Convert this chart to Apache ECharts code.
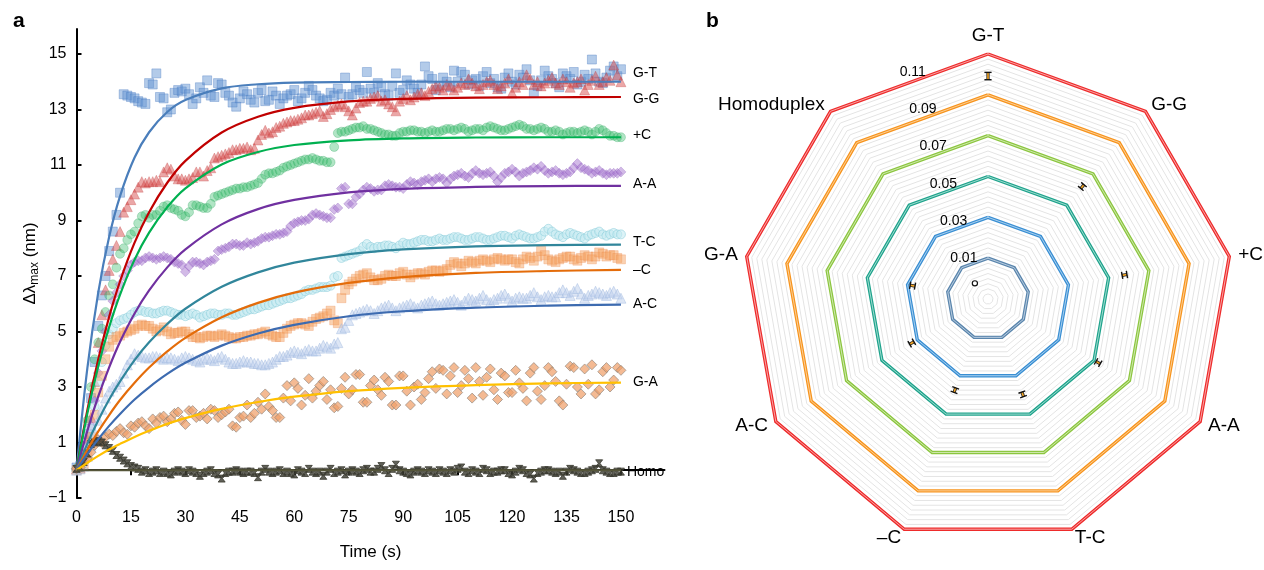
<!DOCTYPE html>
<html>
<head>
<meta charset="utf-8">
<script src="https://cdn.jsdelivr.net/npm/echarts@6/dist/echarts.min.js"></script>
<style>
  html, body { margin: 0; padding: 0; background: #fff; }
  #chart { width: 1264px; height: 570px; }
</style>
</head>
<body>
<div id="chart"></div>
<script>
// ---------- panel a : measured points, one per second ----------
const time = [0,1,2,3,4,5,6,7,8,9,10,11,12,13,14,15,16,17,18,19,20,21,22,23,24,25,26,27,28,29,
  30,31,32,33,34,35,36,37,38,39,40,41,42,43,44,45,46,47,48,49,50,51,52,53,54,55,56,57,58,59,
  60,61,62,63,64,65,66,67,68,69,70,71,72,73,74,75,76,77,78,79,80,81,82,83,84,85,86,87,88,89,
  90,91,92,93,94,95,96,97,98,99,100,101,102,103,104,105,106,107,108,109,110,111,112,113,114,115,116,117,118,119,
  120,121,122,123,124,125,126,127,128,129,130,131,132,133,134,135,136,137,138,139,140,141,142,143,144,145,146,147,148,149,150];

const gtPts = [0.1,0.15,0.4,1.3,2.6,3.9,5.2,6.3,7.0,7.9,
  8.6,9.2,10.0,13.55,13.5,13.45,13.4,13.3,13.25,13.2,
  13.95,13.9,14.3,13.45,13.4,12.9,13.0,13.6,13.7,13.65,
  13.75,13.55,13.2,13.4,13.8,13.6,14.05,13.5,13.45,13.95,
  13.9,13.6,13.5,13.25,13.1,13.4,13.65,13.55,13.35,13.25,
  13.6,13.7,13.3,13.35,13.65,13.5,13.2,13.4,13.5,13.55,
  13.7,13.3,13.4,13.6,13.85,13.7,13.5,13.4,13.3,13.35,
  13.6,13.5,13.75,13.55,14.15,13.45,13.55,13.8,13.7,13.6,
  14.35,13.75,13.6,13.95,13.8,13.55,13.5,13.85,14.3,13.6,
  13.7,14.05,13.9,13.75,13.6,13.9,14.55,14.2,14.1,13.7,
  13.85,14.15,14.0,13.8,14.4,14.0,14.35,14.25,13.9,14.05,
  14.1,13.85,14.2,14.35,13.95,14.1,13.8,13.75,14.15,14.3,
  14.0,13.9,14.25,14.15,14.45,14.05,13.6,13.85,14.05,14.4,
  14.2,14.1,13.95,13.8,14.3,14.2,14.1,14.35,13.9,14.0,
  14.25,14.1,14.8,14.3,14.0,13.95,14.15,14.4,14.55,14.2,
  14.45];
const ggPts = [0.05,0.1,0.5,1.1,1.9,3.2,4.6,5.6,6.5,7.2,
  7.6,8.1,8.6,9.3,9.5,9.75,9.95,10.2,10.4,10.35,
  10.4,10.4,10.45,10.4,10.75,10.9,10.85,10.6,10.5,10.5,
  10.45,10.5,10.55,10.75,10.75,10.6,10.8,10.9,11.25,11.3,
  11.35,11.4,11.45,11.55,11.55,11.6,11.6,11.65,11.55,11.6,
  11.9,12.1,12.25,12.15,12.2,12.35,12.4,12.5,12.55,12.6,
  12.6,12.65,12.7,12.8,12.8,12.85,12.9,12.95,12.75,12.85,
  13.0,13.1,13.15,13.2,13.1,12.95,12.8,13.05,13.25,13.3,
  13.3,13.4,13.45,13.5,13.3,13.35,13.2,13.1,12.95,13.3,
  13.4,13.5,13.35,13.45,13.55,13.6,13.5,13.65,13.75,13.85,
  13.8,13.7,13.9,13.85,13.7,13.8,13.95,13.9,14.1,13.95,
  13.85,13.75,13.9,14.0,14.05,13.9,13.75,13.85,13.95,14.1,
  13.6,13.8,14.0,13.9,14.25,14.1,13.9,14.0,13.85,13.95,
  14.05,14.15,13.95,13.9,14.1,14.0,13.8,13.95,14.0,14.1,
  13.7,13.9,14.05,14.2,13.9,14.0,14.15,14.05,14.6,14.25,
  14.0];
const pcPts = [0.05,0.2,0.6,1.8,3.0,4.0,4.6,5.1,5.7,6.3,
  6.7,7.3,7.8,8.0,8.3,8.5,8.6,8.9,9.15,9.2,
  9.1,9.2,9.2,9.35,9.5,9.55,9.45,9.4,9.35,9.2,
  9.15,9.3,9.55,9.55,9.5,9.45,9.45,9.6,9.85,9.9,
  9.95,10.0,10.05,10.1,10.15,10.15,10.2,10.2,10.25,10.3,
  10.35,10.5,10.65,10.7,10.7,10.75,10.8,10.9,10.95,11.0,
  11.05,11.1,11.15,11.2,11.2,11.25,11.2,11.15,11.15,11.1,
  11.1,11.65,12.15,12.2,12.2,12.25,12.3,12.35,12.35,12.4,
  12.3,12.3,12.25,12.2,12.15,12.1,12.1,12.05,12.05,12.15,
  12.2,12.2,12.25,12.25,12.2,12.2,12.15,12.2,12.25,12.2,
  12.2,12.25,12.3,12.3,12.25,12.3,12.35,12.3,12.2,12.25,
  12.3,12.3,12.25,12.35,12.4,12.35,12.3,12.25,12.25,12.3,
  12.35,12.4,12.45,12.4,12.3,12.3,12.25,12.3,12.35,12.3,
  12.2,12.2,12.25,12.2,12.1,12.15,12.2,12.2,12.15,12.2,
  12.25,12.2,12.1,12.2,12.3,12.25,12.15,12.05,12.05,12.0,
  12.0];
const aaPts = [0.05,0.1,0.4,0.9,1.6,2.5,3.5,4.3,5.0,5.6,
  6.1,6.4,6.7,7.0,7.2,7.4,7.5,7.55,7.55,7.65,
  7.7,7.65,7.6,7.65,7.7,7.65,7.6,7.5,7.45,7.4,
  7.15,7.35,7.5,7.5,7.45,7.4,7.5,7.55,7.6,7.9,
  7.95,8.0,8.05,8.15,8.15,8.1,8.1,8.2,8.15,8.2,
  8.25,8.35,8.4,8.4,8.45,8.5,8.5,8.55,8.6,8.8,
  8.9,8.95,9.0,9.0,9.05,9.2,9.25,9.2,9.15,9.1,
  9.1,9.4,9.45,10.15,10.2,9.6,9.6,9.85,9.95,10.1,
  10.2,10.15,10.05,10.1,10.1,10.25,10.3,10.25,10.2,10.2,
  10.15,10.3,10.4,10.35,10.3,10.4,10.45,10.5,10.4,10.5,
  10.55,10.5,10.35,10.5,10.6,10.65,10.7,10.6,10.55,10.7,
  10.8,10.7,10.65,10.7,10.75,10.6,10.4,10.55,10.7,10.75,
  10.85,10.75,10.6,10.7,10.75,10.8,10.9,10.85,10.95,10.8,
  10.7,10.75,10.8,10.7,10.65,10.7,10.75,10.9,11.05,10.9,
  10.85,10.8,10.7,10.75,10.8,10.7,10.65,10.7,10.7,10.7,
  10.75];
const tcPts = [0.0,0.1,0.3,0.8,1.5,2.3,3.2,3.9,4.5,4.9,
  5.1,5.3,5.4,5.45,5.5,5.6,5.7,5.75,5.75,5.7,
  5.7,5.65,5.65,5.7,5.75,5.75,5.7,5.65,5.6,5.6,
  5.55,5.6,5.65,5.6,5.5,5.55,5.6,5.65,5.65,5.6,
  5.6,5.65,5.65,5.6,5.6,5.65,5.7,5.75,5.8,5.8,
  5.85,5.9,5.95,5.95,6.0,6.05,6.1,6.15,6.2,6.2,
  6.25,6.3,6.35,6.45,6.5,6.5,6.55,6.6,6.6,6.6,
  6.65,6.95,7.0,7.65,7.7,7.75,7.8,7.85,7.9,8.05,
  8.15,8.05,8.0,8.05,8.05,8.1,8.1,8.05,8.0,8.1,
  8.2,8.15,8.15,8.2,8.25,8.3,8.3,8.25,8.25,8.3,
  8.35,8.3,8.3,8.35,8.4,8.4,8.35,8.3,8.3,8.35,
  8.4,8.4,8.35,8.3,8.3,8.35,8.4,8.45,8.45,8.4,
  8.35,8.45,8.5,8.45,8.4,8.35,8.35,8.4,8.45,8.6,
  8.7,8.6,8.5,8.45,8.4,8.5,8.55,8.5,8.45,8.4,
  8.35,8.45,8.5,8.55,8.6,8.5,8.45,8.5,8.55,8.5,
  8.5];
const mcPts = [0.0,0.05,0.2,0.6,1.2,2.0,2.8,3.4,4.0,4.45,
  4.7,4.8,4.85,4.95,5.0,5.05,5.1,5.2,5.25,5.2,
  5.2,5.1,5.0,5.05,5.15,5.0,4.9,4.95,4.95,5.0,
  5.0,4.9,4.8,4.8,4.75,4.8,4.85,4.85,4.8,4.85,
  4.9,4.85,4.8,4.75,4.75,4.8,4.8,4.85,4.85,4.9,
  4.9,4.95,5.0,4.9,4.85,4.8,4.8,4.95,5.1,5.2,
  5.25,5.3,5.3,5.25,5.2,5.35,5.45,5.5,5.55,5.65,
  5.75,5.4,5.3,6.2,6.5,6.7,6.8,6.9,7.0,7.05,
  7.1,6.95,6.85,6.85,6.9,7.0,7.05,7.0,7.0,7.1,
  7.15,7.05,6.95,7.05,7.1,7.1,7.05,7.15,7.2,7.2,
  7.15,7.2,7.25,7.4,7.5,7.45,7.35,7.45,7.55,7.5,
  7.45,7.55,7.6,7.55,7.5,7.6,7.65,7.6,7.55,7.6,
  7.6,7.5,7.45,7.6,7.7,7.65,7.55,7.7,7.9,7.75,
  7.6,7.55,7.5,7.6,7.65,7.7,7.7,7.6,7.55,7.65,
  7.75,7.7,7.6,7.7,7.85,7.8,7.7,7.75,7.75,7.65,
  7.6];
const acPts = [0.0,0.05,0.15,0.5,0.9,1.35,1.8,2.2,2.6,2.85,
  3.0,3.1,3.2,3.5,3.8,4.0,4.2,4.15,4.1,4.05,
  4.05,4.1,4.1,4.05,4.0,4.05,4.05,4.0,3.95,4.05,
  4.1,4.05,4.0,3.95,3.9,4.0,4.05,4.0,3.95,4.05,
  4.1,4.0,3.9,3.85,3.85,3.9,3.95,3.9,3.9,3.85,
  3.85,3.8,3.8,3.85,3.9,4.0,4.1,4.1,4.15,4.25,
  4.3,4.25,4.2,4.3,4.35,4.3,4.3,4.4,4.5,4.45,
  4.4,4.55,4.6,5.1,5.15,5.4,5.6,5.65,5.7,5.75,
  5.8,5.75,5.65,5.75,5.85,5.9,5.95,5.85,5.75,5.85,
  5.9,5.95,6.0,5.9,5.85,5.95,6.0,6.05,6.1,6.0,
  5.95,6.0,6.05,6.1,6.15,6.05,5.95,6.1,6.2,6.15,
  6.1,6.2,6.3,6.15,6.05,6.15,6.2,6.3,6.35,6.2,
  6.1,6.2,6.25,6.2,6.2,6.3,6.4,6.25,6.15,6.25,
  6.3,6.25,6.25,6.4,6.5,6.4,6.3,6.45,6.55,6.35,
  6.2,6.3,6.35,6.45,6.4,6.35,6.3,6.4,6.45,6.35,
  6.2];
const gaPts = [0.05,0.1,0.3,0.45,0.65,0.9,1.1,1.0,1.2,1.3,
  1.25,1.4,1.5,1.35,1.3,1.6,1.55,1.7,1.75,1.6,
  1.5,1.85,1.7,1.9,1.95,1.75,1.85,2.05,2.1,1.8,
  1.65,2.15,2.15,1.9,1.95,2.05,1.85,2.2,2.15,1.9,
  2.0,2.1,2.2,1.6,1.55,1.9,1.95,2.35,1.9,2.05,
  2.45,2.2,2.75,2.3,2.15,1.9,1.9,2.6,3.05,2.5,
  3.15,2.95,2.35,2.7,3.3,2.6,2.85,3.05,3.2,2.55,
  2.9,2.25,2.3,2.95,3.35,2.75,2.9,3.45,3.45,2.45,
  2.45,3.05,3.25,2.9,2.7,3.35,3.2,2.35,2.35,3.4,
  3.4,2.85,2.35,3.0,3.1,2.55,2.8,3.3,3.55,2.95,
  3.65,3.6,2.75,3.4,3.7,2.8,3.05,3.6,3.3,2.6,
  3.7,3.2,2.7,3.35,3.65,2.9,2.55,3.5,3.4,2.8,
  2.8,3.6,3.15,2.95,2.5,3.5,3.7,2.85,2.55,3.05,
  3.7,3.55,3.2,2.5,2.35,3.1,3.75,3.7,3.0,2.75,
  3.65,3.1,3.8,2.75,2.9,3.55,3.7,3.0,3.25,3.7,
  3.6];
const homoPts = [0.05,0.1,0.3,0.6,0.95,1.0,1.05,1.0,0.9,0.8,
  0.7,0.55,0.45,0.35,0.25,0.15,0.1,0.05,-0.05,0.0,
  -0.1,-0.05,0.0,-0.1,-0.05,-0.1,-0.15,-0.05,0.0,-0.05,
  -0.1,0.0,-0.05,-0.1,-0.2,-0.1,-0.05,0.0,-0.1,-0.15,
  -0.3,-0.1,-0.05,-0.05,0.0,-0.05,-0.1,-0.05,-0.05,-0.1,
  -0.25,-0.05,0.05,-0.05,-0.1,-0.05,0.0,-0.1,-0.05,-0.1,
  -0.15,0.0,-0.05,-0.1,0.05,-0.05,-0.1,-0.05,-0.2,-0.05,
  0.05,-0.1,-0.05,0.0,-0.15,-0.05,0.0,-0.05,-0.1,0.0,
  0.05,-0.05,-0.05,0.05,0.15,0.0,-0.1,0.05,0.2,0.0,
  -0.05,-0.1,-0.15,-0.05,0.0,-0.05,-0.1,0.0,-0.05,-0.1,
  0.0,-0.05,-0.1,0.0,-0.05,0.05,0.1,-0.05,-0.1,0.0,
  -0.05,-0.1,0.05,0.0,-0.1,-0.05,-0.05,0.0,0.0,-0.1,
  -0.15,-0.05,0.05,0.0,-0.1,-0.15,-0.3,-0.1,-0.05,0.0,
  0.0,-0.05,-0.1,-0.05,-0.2,-0.05,0.05,0.0,-0.05,-0.1,
  -0.1,-0.05,0.0,0.05,0.25,0.0,-0.05,-0.1,-0.1,-0.05,
  -0.05];

// ---------- panel a : fitted curves ----------
const fitTime = [0,3,6,9,12,16,20,25,30,40,50,60,75,90,110,130,150];
const gtFit   = [0,3.69,6.41,8.41,9.88,11.27,12.18,12.91,13.34,13.76,13.91,13.97,13.99,14.0,14.0,14.0,14.0];
const ggFit   = [0,2.17,4.0,5.53,6.81,8.2,9.3,10.36,11.15,12.17,12.74,13.06,13.29,13.38,13.43,13.44,13.45];
const pcFit   = [0,2.05,3.75,5.16,6.33,7.59,8.56,9.48,10.16,11.02,11.47,11.72,11.89,11.96,11.99,12.0,12.0];
const aaFit   = [0,1.43,2.66,3.71,4.63,5.65,6.48,7.31,7.96,8.86,9.41,9.74,10.01,10.14,10.21,10.24,10.25];
const tcFit   = [0,0.96,1.8,2.55,3.2,3.97,4.61,5.27,5.82,6.61,7.13,7.48,7.79,7.96,8.07,8.11,8.13];
const mcFit   = [0,0.74,1.4,1.99,2.53,3.15,3.7,4.28,4.77,5.51,6.03,6.4,6.75,6.96,7.11,7.18,7.22];
const acFit   = [0,0.59,1.12,1.6,2.03,2.55,2.99,3.47,3.87,4.49,4.93,5.24,5.55,5.73,5.86,5.93,5.97];
const gaFit   = [0,0.27,0.52,0.75,0.95,1.2,1.42,1.67,1.88,2.21,2.46,2.65,2.85,2.97,3.07,3.13,3.16];
const homoFit = [0,0,0,0,0,0,0,0,0,0,0,0,0,0,0,0,0];

const xTicks = [0,15,30,45,60,75,90,105,120,135,150];
const yTicks = [-1,1,3,5,7,9,11,13,15];

// ---------- panel b : radar ----------
const mismatch = ['G-T','G-G','+C','A-A','T-C','\u2013C','A-C','G-A','Homoduplex']; // clockwise from top
const ratio    = [0.0992,0.0619,0.0579,0.0523,0.0397,0.0375,0.0331,0.0275,0.0];
const ratioErr = [0.0018,0.0012,0.0012,0.0012,0.0012,0.0012,0.0012,0.0012,0];
const ringLabels = [0.01,0.03,0.05,0.07,0.09,0.11];

const FONT = '"Liberation Sans", Arial, Helvetica, sans-serif';

// marker / line looks for panel a
const sets = [
  { name: 'G-T',  pts: gtPts,  fit: gtFit,  symbol: 'rect',     size: 9,  fill: 'rgba(96,146,208,0.6)',   border: 'rgba(70,120,190,0.45)', line: '#4a7ebb', off: [0,-9] },
  { name: 'G-G',  pts: ggPts,  fit: ggFit,  symbol: 'triangle', size: 10, fill: 'rgba(214,72,72,0.6)',    border: 'rgba(190,50,50,0.35)', line: '#c00000', off: [0,2] },
  { name: '+C',   pts: pcPts,  fit: pcFit,  symbol: 'circle',   size: 9,  fill: 'rgba(60,190,110,0.5)',   border: 'rgba(40,160,90,0.35)', line: '#00b050', off: [0,-2] },
  { name: 'A-A',  pts: aaPts,  fit: aaFit,  symbol: 'diamond',  size: 10, fill: 'rgba(160,110,205,0.6)',  border: 'rgba(130,80,180,0.35)', line: '#7030a0', off: [0,-2] },
  { name: 'T-C',  pts: tcPts,  fit: tcFit,  symbol: 'circle',   size: 9,  fill: 'rgba(195,234,240,0.7)',  border: 'rgba(130,200,215,0.6)', line: '#31869b', off: [0,-2] },
  { name: '\u2013C', pts: mcPts, fit: mcFit, symbol: 'rect',    size: 9,  fill: 'rgba(245,160,95,0.6)',   border: 'rgba(230,130,70,0.35)', line: '#e46c0a', off: [0,0] },
  { name: 'A-C',  pts: acPts,  fit: acFit,  symbol: 'triangle', size: 10, fill: 'rgba(190,208,236,0.65)', border: 'rgba(150,178,220,0.5)', line: '#3d6bb0', off: [0,0] },
  { name: 'G-A',  pts: gaPts,  fit: gaFit,  symbol: 'diamond',  size: 10, fill: 'rgba(240,160,105,0.9)',  border: 'rgba(140,130,120,0.8)', line: '#ffc000', off: [0,0] },
  { name: 'Homo', pts: homoPts, fit: homoFit, symbol: 'path://M0 0H10L6.2 5L10 10H0L3.8 5Z', size: 7, fill: '#3a3a30', border: '#3a3a30', line: '#56563a', off: [-6,2] }
];

const series = [];
sets.forEach(function (s) {
  series.push({
    type: 'scatter',
    name: s.name + ' data',
    data: time.map(function (t, i) { return [t, s.pts[i]]; }),
    symbol: s.symbol,
    symbolSize: s.size,
    itemStyle: { color: s.fill, borderColor: s.border, borderWidth: 1 },
    silent: true,
    z: 2
  });
});
sets.forEach(function (s) {
  series.push({
    type: 'line',
    name: s.name,
    data: fitTime.map(function (t, i) { return [t, s.fit[i]]; }),
    smooth: 0.35,
    showSymbol: false,
    lineStyle: { color: s.line, width: 2.2 },
    endLabel: {
      show: true, formatter: s.name, distance: 12, offset: s.off,
      color: '#000', fontSize: 14, fontFamily: FONT
    },
    silent: true,
    z: 3
  });
});

// error bars and the homoduplex point, placed on a polar system that sits under the radar
series.push({
  type: 'custom',
  coordinateSystem: 'polar',
  silent: true,
  z: 10,
  data: mismatch.map(function (m, i) { return [ratio[i], i * 40, ratioErr[i]]; }),
  renderItem: function (params, api) {
    const v = api.value(0), a = api.value(1), e = api.value(2);
    if (!e) {
      const p = api.coord([v, a]);
      return { type: 'circle', shape: { cx: p[0], cy: p[1], r: 2.6 },
        style: { fill: '#fff', stroke: '#111', lineWidth: 1.2 } };
    }
    const p0 = api.coord([v - e, a]), p1 = api.coord([v + e, a]);
    const dx = p1[0] - p0[0], dy = p1[1] - p0[1];
    const len = Math.sqrt(dx * dx + dy * dy) || 1;
    const nx = -dy / len * 3.6, ny = dx / len * 3.6;
    return {
      type: 'group',
      children: [
        { type: 'line', shape: { x1: p0[0], y1: p0[1], x2: p1[0], y2: p1[1] },
          style: { stroke: '#222', lineWidth: 3.2 } },
        { type: 'line', shape: { x1: p0[0], y1: p0[1], x2: p1[0], y2: p1[1] },
          style: { stroke: '#f5a623', lineWidth: 1.6 } },
        { type: 'line', shape: { x1: p0[0] - nx, y1: p0[1] - ny, x2: p0[0] + nx, y2: p0[1] + ny },
          style: { stroke: '#111', lineWidth: 1.4 } },
        { type: 'line', shape: { x1: p1[0] - nx, y1: p1[1] - ny, x2: p1[0] + nx, y2: p1[1] + ny },
          style: { stroke: '#111', lineWidth: 1.4 } }
      ]
    };
  }
});

// ring value labels, sitting just above the G-T / Homoduplex edge
series.push({
  type: 'custom',
  coordinateSystem: 'polar',
  silent: true,
  z: 11,
  data: ringLabels.map(function (v) { return [v, 0]; }),
  renderItem: function (params, api) {
    const v = api.value(0);
    const top = api.coord([v, 0]);
    const left = api.coord([v, 320]);
    const ctr = api.coord([-0.01, 0]);
    const r = ctr[1] - top[1];
    const x = top[0] - (14 + 0.25 * r);
    const f = (top[0] - x) / (top[0] - left[0]);
    const y = top[1] + f * (left[1] - top[1]) - 9;
    return { type: 'text', x: x, y: y,
      style: { text: v.toFixed(2), fill: '#000', fontSize: 14, fontFamily: FONT,
        align: 'center', verticalAlign: 'middle' } };
  }
});

// echarts lays radar indicators counter-clockwise, so flip the order after the first one
const indicator = [mismatch[0]].concat(mismatch.slice(1).reverse()).map(function (n) {
  return { name: n, min: -0.01, max: 0.11 };
});

const radarBase = {
  center: [988, 299],
  radius: 245,
  startAngle: 90,
  shape: 'polygon',
  indicator: indicator,
  axisLine: { show: false },
  axisTick: { show: false },
  axisLabel: { show: false },
  splitArea: { show: false }
};

const option = {
  animation: false,
  textStyle: { fontFamily: FONT },
  title: [
    { text: 'a', left: 8, top: 6, textStyle: { fontSize: 21, fontWeight: 'bold', color: '#000', fontFamily: FONT } },
    { text: 'b', left: 701, top: 6, textStyle: { fontSize: 21, fontWeight: 'bold', color: '#000', fontFamily: FONT } }
  ],
  grid: { left: 76.5, top: 29, width: 588, height: 469 },
  xAxis: {
    type: 'value', min: 0, max: 162,
    axisLine: { lineStyle: { color: '#000', width: 2 } },
    axisTick: { show: true, length: 5, customValues: xTicks, lineStyle: { color: '#000', width: 2 } },
    axisLabel: { customValues: xTicks, color: '#000', fontSize: 16, margin: 12 },
    splitLine: { show: false },
    name: 'Time (s)', nameLocation: 'middle', nameGap: 46,
    nameTextStyle: { color: '#000', fontSize: 17 }
  },
  yAxis: {
    type: 'value', min: -1, max: 15.9,
    axisLine: { show: true, lineStyle: { color: '#000', width: 2 } },
    axisTick: { show: true, inside: true, length: 5, customValues: yTicks, lineStyle: { color: '#000', width: 2 } },
    axisLabel: { customValues: yTicks, color: '#000', fontSize: 16, margin: 10,
      formatter: function (v) { return String(v).replace('-', '\u2212'); } },
    splitLine: { show: false },
    name: '{t|\u0394\u03bb}{s|max}{t| (nm)}', nameLocation: 'middle', nameGap: 36,
    nameTextStyle: {
      rich: {
        t: { fontSize: 17, color: '#000', fontFamily: FONT },
        s: { fontSize: 12, color: '#000', fontFamily: FONT, padding: [8, 0, 0, 0] }
      }
    }
  },
  polar: { center: [988, 299], radius: 245 },
  angleAxis: { type: 'value', min: 0, max: 360, startAngle: 90, clockwise: true, show: false },
  radiusAxis: { type: 'value', min: -0.01, max: 0.11, show: false },
  radar: [
    Object.assign({}, radarBase, {
      splitNumber: 48,
      axisName: { color: '#000', fontSize: 19, fontFamily: FONT },
      nameGap: 9,
      splitLine: { lineStyle: { color: '#e4e4e4', width: 1 } }
    }),
    Object.assign({}, radarBase, {
      splitNumber: 6,
      axisName: { show: false },
      splitLine: { lineStyle: { width: 3.4,
        color: ['rgba(0,0,0,0)', '#5b86ad', '#3a8fd3', '#1fa38c', '#8cc63f', '#f7941d', '#ee2b2b'] } }
    }),
    Object.assign({}, radarBase, {
      splitNumber: 6,
      axisName: { show: false },
      splitLine: { lineStyle: { width: 1,
        color: ['rgba(0,0,0,0)', '#b9cde0', '#a9d0ef', '#9fdcd0', '#cfe8ae', '#fccf97', '#f9a5a5'] } }
    })
  ],
  series: series
};

const chart = echarts.init(document.getElementById('chart'));
chart.setOption(option);
</script>
</body>
</html>
